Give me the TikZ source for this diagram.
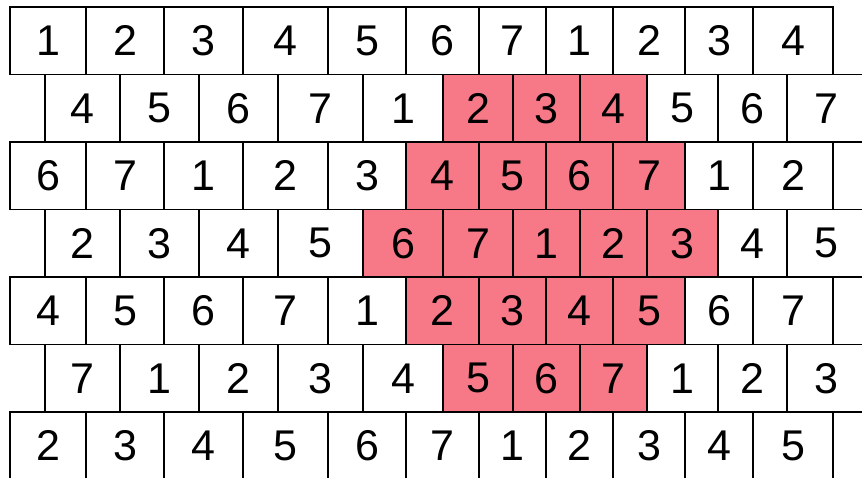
\documentclass[tikz,border=0pt]{standalone}
\usepackage{fontspec}
\setmainfont{Liberation Sans}
\definecolor{brickred}{RGB}{247,121,136}
\tikzset{
  brick/.style={
    rectangle, draw=black, line width=1.8pt,
    minimum height=67.5pt, inner sep=0pt, outer sep=0pt,
    font=\fontsize{43}{43}\selectfont, text=black
  },
}
% column cuts of the two kinds of rows
\def\oddcuts{{10,86,164,243,328,406,479,546,613,685,753,833}}
\def\evencuts{{45,120,199,278,363,443,513,580,647,718,787,866}}

\begin{document}
\begin{tikzpicture}[x=1pt,y=-1pt]
  \useasboundingbox (0,0) rectangle (862,478);
  \clip (0,0) rectangle (862,478);
  % row 1
  \foreach \n/\c [count=\i] in {1/white,2/white,3/white,4/white,5/white,6/white,
                                7/white,1/white,2/white,3/white,4/white}{
    \pgfmathsetmacro\xa{\oddcuts[\i-1]}
    \pgfmathsetmacro\xb{\oddcuts[\i]}
    \node[brick,fill=\c,minimum width={\xb-\xa}] (r1-\i) at ({(\xa+\xb)/2},40.75) {\n};
  }
  % row 2
  \foreach \n/\c [count=\i] in {4/white,5/white,6/white,7/white,1/white,2/brickred,
                                3/brickred,4/brickred,5/white,6/white,7/white}{
    \pgfmathsetmacro\xa{\evencuts[\i-1]}
    \pgfmathsetmacro\xb{\evencuts[\i]}
    \node[brick,fill=\c,minimum width={\xb-\xa}] (r2-\i) at ({(\xa+\xb)/2},108.25) {\n};
  }
  % row 3
  \foreach \n/\c [count=\i] in {6/white,7/white,1/white,2/white,3/white,4/brickred,
                                5/brickred,6/brickred,7/brickred,1/white,2/white}{
    \pgfmathsetmacro\xa{\oddcuts[\i-1]}
    \pgfmathsetmacro\xb{\oddcuts[\i]}
    \node[brick,fill=\c,minimum width={\xb-\xa}] (r3-\i) at ({(\xa+\xb)/2},175.75) {\n};
  }
  % row 4
  \foreach \n/\c [count=\i] in {2/white,3/white,4/white,5/white,6/brickred,7/brickred,
                                1/brickred,2/brickred,3/brickred,4/white,5/white}{
    \pgfmathsetmacro\xa{\evencuts[\i-1]}
    \pgfmathsetmacro\xb{\evencuts[\i]}
    \node[brick,fill=\c,minimum width={\xb-\xa}] (r4-\i) at ({(\xa+\xb)/2},243.25) {\n};
  }
  % row 5
  \foreach \n/\c [count=\i] in {4/white,5/white,6/white,7/white,1/white,2/brickred,
                                3/brickred,4/brickred,5/brickred,6/white,7/white}{
    \pgfmathsetmacro\xa{\oddcuts[\i-1]}
    \pgfmathsetmacro\xb{\oddcuts[\i]}
    \node[brick,fill=\c,minimum width={\xb-\xa}] (r5-\i) at ({(\xa+\xb)/2},310.75) {\n};
  }
  % row 6
  \foreach \n/\c [count=\i] in {7/white,1/white,2/white,3/white,4/white,5/brickred,
                                6/brickred,7/brickred,1/white,2/white,3/white}{
    \pgfmathsetmacro\xa{\evencuts[\i-1]}
    \pgfmathsetmacro\xb{\evencuts[\i]}
    \node[brick,fill=\c,minimum width={\xb-\xa}] (r6-\i) at ({(\xa+\xb)/2},378.25) {\n};
  }
  % row 7
  \foreach \n/\c [count=\i] in {2/white,3/white,4/white,5/white,6/white,7/white,
                                1/white,2/white,3/white,4/white,5/white}{
    \pgfmathsetmacro\xa{\oddcuts[\i-1]}
    \pgfmathsetmacro\xb{\oddcuts[\i]}
    \node[brick,fill=\c,minimum width={\xb-\xa}] (r7-\i) at ({(\xa+\xb)/2},445.75) {\n};
  }
\end{tikzpicture}
\end{document}
